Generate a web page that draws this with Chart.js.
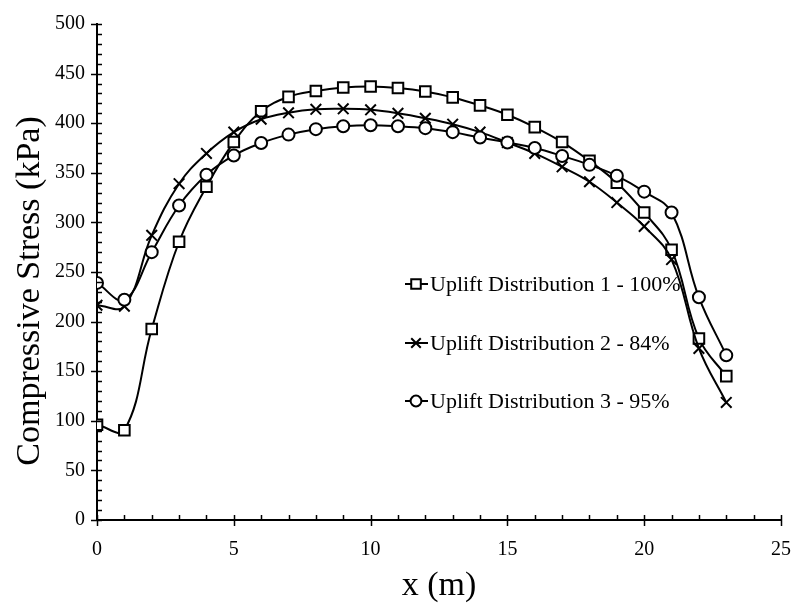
<!DOCTYPE html>
<html>
<head>
<meta charset="utf-8">
<script src="https://cdn.jsdelivr.net/npm/chart.js@4.4.1/dist/chart.umd.min.js"></script>
<style>
  html, body { margin: 0; padding: 0; background: #fff; }
  #wrap { width: 792px; height: 605px; }
</style>
</head>
<body>
<div id="wrap"><canvas id="stress"></canvas></div>
<script>
// distance along the base, m
const xPos = [0, 1, 2, 3, 4, 5, 6, 7, 8, 9, 10, 11, 12, 13, 14, 15, 16, 17, 18, 19, 20, 21, 22, 23];

// compressive stress, kPa
const uplift1 = [96, 90.5, 192.5, 280.5, 336, 381, 412, 426.5, 432.5, 436, 437, 435.5,
                 432, 426, 418, 408.5, 396, 381, 362, 340, 310, 272.5, 183, 145];
const uplift2 = [216.5, 215.5, 287, 339, 369.5, 391, 404, 410.5, 414, 414.5, 413.5, 410,
                 405, 399, 391, 380.5, 369.5, 356, 341, 320, 296, 262.5, 173, 118.5];
const uplift3 = [239, 222, 270, 317, 348, 367.5, 380, 388.5, 394, 397, 398, 397,
                 395, 391, 385.5, 380.5, 375, 367, 358, 347, 331, 310, 224.5, 166];

const seriesNames = [
  "Uplift Distribution 1 - 100%",
  "Uplift Distribution 2 - 84%",
  "Uplift Distribution 3 - 95%"
];

const yTitle = "Compressive Stress (kPa)";
const serif = "'Liberation Serif', 'Times New Roman', serif";

function toPoints(vals) {
  return vals.map((v, i) => ({ x: xPos[i], y: v }));
}

function series(label, vals, style, radius, order) {
  return {
    label: label,
    data: toPoints(vals),
    borderColor: "#000",
    borderWidth: 2,
    tension: 0.4,
    pointStyle: style,
    pointRadius: radius,
    pointBorderWidth: 2,
    pointBackgroundColor: "#fff",
    pointBorderColor: "#000",
    order: order
  };
}

// Excel-style tick marks: majors cross the axis, minors sit inside
const tickMarks = {
  id: "tickMarks",
  afterDraw(chart) {
    const ctx = chart.ctx;
    const sx = chart.scales.x, sy = chart.scales.y;
    ctx.save();
    ctx.strokeStyle = "#000";
    ctx.lineWidth = 1.5;
    ctx.beginPath();
    for (let v = sx.min; v <= sx.max; v += 1) {
      const px = Math.round(sx.getPixelForValue(v)) + 0.5;
      const major = v % 5 === 0;
      ctx.moveTo(px, sy.bottom + (major ? 6 : 0));
      ctx.lineTo(px, sy.bottom - 5);
    }
    for (let v = sy.min; v <= sy.max; v += 10) {
      const py = Math.round(sy.getPixelForValue(v)) + 0.5;
      const major = v % 50 === 0;
      ctx.moveTo(sx.left - (major ? 6 : 0), py);
      ctx.lineTo(sx.left + 5, py);
    }
    ctx.stroke();

    // vertical axis title, sat a little below the middle of the axis
    ctx.translate(30, 291);
    ctx.rotate(-Math.PI / 2);
    ctx.font = "34px " + serif;
    ctx.fillStyle = "#000";
    ctx.textAlign = "center";
    ctx.textBaseline = "middle";
    ctx.fillText(yTitle, 0, 0);
    ctx.restore();
  }
};

// legend box placed inside the plot area
const insideLegend = {
  id: "insideLegend",
  afterDraw(chart) {
    const ctx = chart.ctx;
    const left = 405, rowY = [284, 343, 401];
    ctx.save();
    ctx.font = "22px " + serif;
    ctx.textBaseline = "middle";
    chart.data.datasets.forEach((ds, i) => {
      const y = rowY[i];
      ctx.strokeStyle = "#000";
      ctx.lineWidth = 2;
      ctx.beginPath();
      ctx.moveTo(left, y);
      ctx.lineTo(left + 23, y);
      ctx.stroke();
      ctx.fillStyle = "#fff";
      Chart.helpers.drawPoint(ctx, {
        pointStyle: ds.pointStyle,
        radius: ds.pointRadius * 0.9,
        rotation: 0,
        borderWidth: 2
      }, left + 11, y);
      ctx.fillStyle = "#000";
      ctx.fillText(ds.label, left + 25, y + 1);
    });
    ctx.restore();
  }
};

new Chart(document.getElementById("stress"), {
  type: "line",
  data: {
    datasets: [
      series(seriesNames[0], uplift1, "rect", 7.5, 3),
      series(seriesNames[1], uplift2, "crossRot", 7.5, 2),
      series(seriesNames[2], uplift3, "circle", 6, 1)
    ]
  },
  options: {
    responsive: true,
    maintainAspectRatio: false,
    animation: false,
    layout: { padding: { top: 16, right: 11, left: 0, bottom: 0 } },
    plugins: {
      legend: { display: false },
      tooltip: { enabled: false }
    },
    scales: {
      x: {
        type: "linear",
        min: 0,
        max: 25,
        grid: { display: false, drawTicks: false },
        border: { display: true, color: "#000", width: 2 },
        ticks: {
          stepSize: 5,
          padding: 18,
          color: "#000",
          font: { family: serif, size: 20 }
        },
        title: {
          display: true,
          text: "x (m)",
          color: "#000",
          font: { family: serif, size: 34, lineHeight: 1 },
          padding: { top: 0, bottom: 2 }
        },
        afterFit(scale) {
          scale.height = 85;
          scale.paddingLeft = 0;
          scale.paddingRight = 0;
        }
      },
      y: {
        min: 0,
        max: 500,
        grid: { display: false, drawTicks: false },
        border: { display: true, color: "#000", width: 2 },
        ticks: {
          stepSize: 50,
          padding: 12,
          color: "#000",
          font: { family: serif, size: 20 }
        },
        afterFit(scale) { scale.width = 97; }
      }
    }
  },
  plugins: [tickMarks, insideLegend]
});
</script>
</body>
</html>
